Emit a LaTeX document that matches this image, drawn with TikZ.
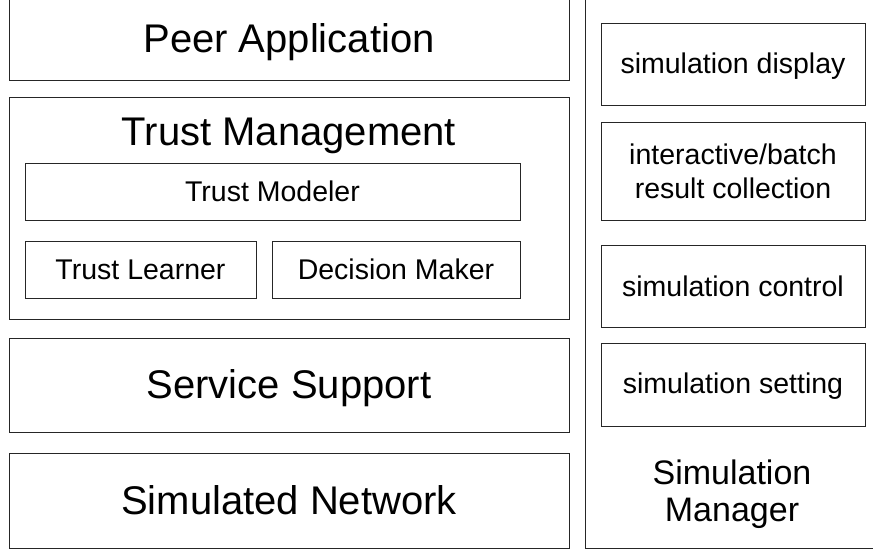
\documentclass[tikz,border=0pt]{standalone}
\usepackage{fontspec}
\setmainfont{Liberation Sans}
\usetikzlibrary{fit}
\tikzset{
  box/.style={draw=black!85, line width=1pt, rectangle, inner sep=0pt},
  big/.style={font=\fontsize{40}{44}\selectfont, anchor=base, inner sep=0pt},
  small/.style={font=\fontsize{28.5}{34}\selectfont, anchor=base, inner sep=0pt},
  mgr/.style={font=\fontsize{34}{37}\selectfont, align=center, inner sep=0pt},
}
\begin{document}
\begin{tikzpicture}[x=1pt,y=-1pt]
  \useasboundingbox (0,0) rectangle (873,550);
  \clip (0,0) rectangle (873,550);
  \fill[white] (0,0) rectangle (873,550);

  % left stack of layers
  \node[box, fit={(9,-6) (569,80)}] (peer) {};
  \node[big] (peertxt) at (289,52) {Peer Application};

  \node[box, fit={(9,97) (569,319)}] (trust) {};
  \node[big] (trusttxt) at (289,145) {Trust Management};
  \node[box, fit={(25,163) (520,220)}] (modeler) {};
  \node[small] (modelertxt) at (272.5,201) {Trust Modeler};
  \node[box, fit={(25,241) (256,298)}] (learner) {};
  \node[small] (learnertxt) at (140.5,279) {Trust Learner};
  \node[box, fit={(272,241) (520,298)}] (decision) {};
  \node[small] (decisiontxt) at (396,279) {Decision Maker};

  \node[box, fit={(9,338) (569,432)}] (service) {};
  \node[big] (servicetxt) at (289,398) {Service Support};

  \node[box, fit={(9,453) (569,548)}] (network) {};
  \node[big] (networktxt) at (289,514) {Simulated Network};

  % simulation manager column
  \node[box, fit={(585,-6) (880,548)}] (manager) {};
  \node[box, fit={(601,23) (865,105)}] (display) {};
  \node[small] (displaytxt) at (733,73) {simulation display};
  \node[box, fit={(601,122) (865,220)}] (collect) {};
  \node[small, align=center, anchor=center] (collecttxt) at (733,171) {interactive/batch\\result collection};
  \node[box, fit={(601,245) (865,327)}] (control) {};
  \node[small] (controltxt) at (733,296) {simulation control};
  \node[box, fit={(601,343) (865,426)}] (setting) {};
  \node[small] (settingtxt) at (733,393) {simulation setting};
  \node[mgr] (managertxt) at (732,494) {Simulation\\Manager};
\end{tikzpicture}
\end{document}
